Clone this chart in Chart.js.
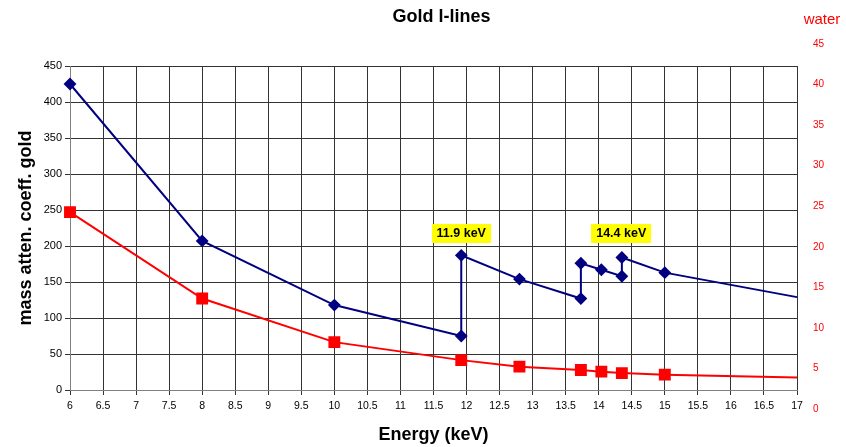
<!DOCTYPE html>
<html><head><meta charset="utf-8">
<script src="https://cdn.jsdelivr.net/npm/chart.js@4/dist/chart.umd.min.js"></script>
<style>html,body{margin:0;padding:0;background:#fff;} #wrap{width:846px;height:447px;position:relative;}</style>
</head><body><div id="wrap"><canvas id="c" width="846" height="447"></canvas></div>
<script>
// ---- data ----
const goldEnergy = [6, 8, 10, 11.92, 11.92, 12.8, 13.73, 13.73, 14.04, 14.35, 14.35, 15, 17];
const goldCoeff  = [425, 207, 118, 75, 187, 154, 127, 176, 167, 158, 184, 163, 129];
const waterEnergy = [6, 8, 10, 11.92, 12.8, 13.73, 14.04, 14.35, 15, 17];
const waterCoeff  = [24.7, 12.7, 6.65, 4.15, 3.24, 2.77, 2.55, 2.35, 2.13, 1.72];
const xTicks = [6, 6.5, 7, 7.5, 8, 8.5, 9, 9.5, 10, 10.5, 11, 11.5, 12, 12.5, 13, 13.5, 14, 14.5, 15, 15.5, 16, 16.5, 17];
const yTicks = [0, 50, 100, 150, 200, 250, 300, 350, 400, 450];
const waterTicks = [0, 5, 10, 15, 20, 25, 30, 35, 40, 45];
const edgeLabels = ['11.9 keV', '14.4 keV'];
const edgeEnergy = [11.92, 14.34];
const edgeLevel = [218, 218];
const chartTitle = 'Gold l-lines';
const xTitle = 'Energy (keV)';
const yTitle = 'mass atten. coeff. gold';
const y2Title = 'water';

const toPts = (xs, ys) => xs.map((x, i) => ({x: x, y: ys[i]}));
const FAM = '"Liberation Sans", Arial, sans-serif';

const extras = {
  id: 'extras',
  afterDraw(chart) {
    const ctx = chart.ctx, a = chart.chartArea;
    ctx.save();
    ctx.fillStyle = '#000';
    ctx.font = 'bold 18px ' + FAM;
    ctx.textAlign = 'center'; ctx.textBaseline = 'middle';
    ctx.fillText(chartTitle, (a.left + a.right) / 2 + 8, 17);
    ctx.fillStyle = '#FF0000';
    ctx.font = '15px ' + FAM;
    ctx.fillText(y2Title, a.right + 25, 20);
    ctx.font = '10px ' + FAM;
    ctx.textAlign = 'left';
    const b0 = a.bottom + 19, t0 = a.top - 22;
    waterTicks.forEach(v => {
      const y = b0 - v / 45 * (b0 - t0);
      ctx.fillText(String(v), a.right + 16, y);
    });
    const xs = chart.scales.x, ys = chart.scales.y;
    ctx.font = 'bold 12.5px ' + FAM;
    ctx.textAlign = 'center';
    edgeLabels.forEach((t, i) => {
      const cx = xs.getPixelForValue(edgeEnergy[i]);
      const cy = ys.getPixelForValue(edgeLevel[i]);
      const w = ctx.measureText(t).width + 10, h = 19;
      ctx.fillStyle = '#FFFF00';
      ctx.fillRect(Math.round(cx - w / 2), Math.round(cy - h / 2), Math.round(w), h);
      ctx.fillStyle = '#000';
      ctx.fillText(t, cx, cy + 1);
    });
    ctx.restore();
  }
};

new Chart(document.getElementById('c'), {
  type: 'line',
  data: {
    datasets: [
      {
        label: 'gold',
        data: toPts(goldEnergy, goldCoeff),
        yAxisID: 'y',
        borderColor: '#000080', backgroundColor: '#000080',
        borderWidth: 2, pointStyle: 'rectRot',
        pointRadius: goldEnergy.map((e, i) => i === goldEnergy.length - 1 ? 0 : 5),
        tension: 0, clip: 8
      },
      {
        label: 'water',
        data: toPts(waterEnergy, waterCoeff),
        yAxisID: 'y2',
        borderColor: '#FF0000', backgroundColor: '#FF0000',
        borderWidth: 2, pointStyle: 'rect',
        pointRadius: waterEnergy.map((e, i) => i === waterEnergy.length - 1 ? 0 : 7),
        tension: 0, clip: 8
      }
    ]
  },
  options: {
    responsive: false, animation: false,
    layout: { padding: { top: 66, right: 49, left: 0, bottom: 0 } },
    plugins: { legend: { display: false }, title: { display: false }, tooltip: { enabled: false } },
    scales: {
      x: {
        type: 'linear', min: 6, max: 17,
        afterBuildTicks: s => { s.ticks = xTicks.map(v => ({value: v})); },
        afterFit: s => { s.height = 57; },
        ticks: { autoSkip: false, maxRotation: 0, color: '#000', padding: 5,
                 callback: v => String(v),
                 font: { size: 10.5, family: FAM } },
        grid: { color: '#333', lineWidth: 1, tickLength: 5 },
        border: { color: '#808080', width: 1 },
        title: { display: true, text: xTitle, color: '#000',
                 font: { size: 18, weight: 'bold', family: FAM },
                 padding: { top: 0, bottom: 1 } }
      },
      y: {
        min: 0, max: 450, position: 'left',
        afterBuildTicks: s => { s.ticks = yTicks.map(v => ({value: v})); },
        afterFit: s => { s.width = 70; },
        ticks: { color: '#000', padding: 3, callback: v => String(v),
                 font: { size: 11, family: FAM } },
        grid: { color: '#333', lineWidth: 1, tickLength: 5 },
        border: { color: '#808080', width: 1 },
        title: { display: true, text: yTitle, color: '#000',
                 font: { size: 18, weight: 'bold', family: FAM },
                 padding: { top: 15, bottom: 0 } }
      },
      y2: { display: false, min: 0, max: 45 }
    }
  },
  plugins: [extras]
});
</script>
</body></html>
